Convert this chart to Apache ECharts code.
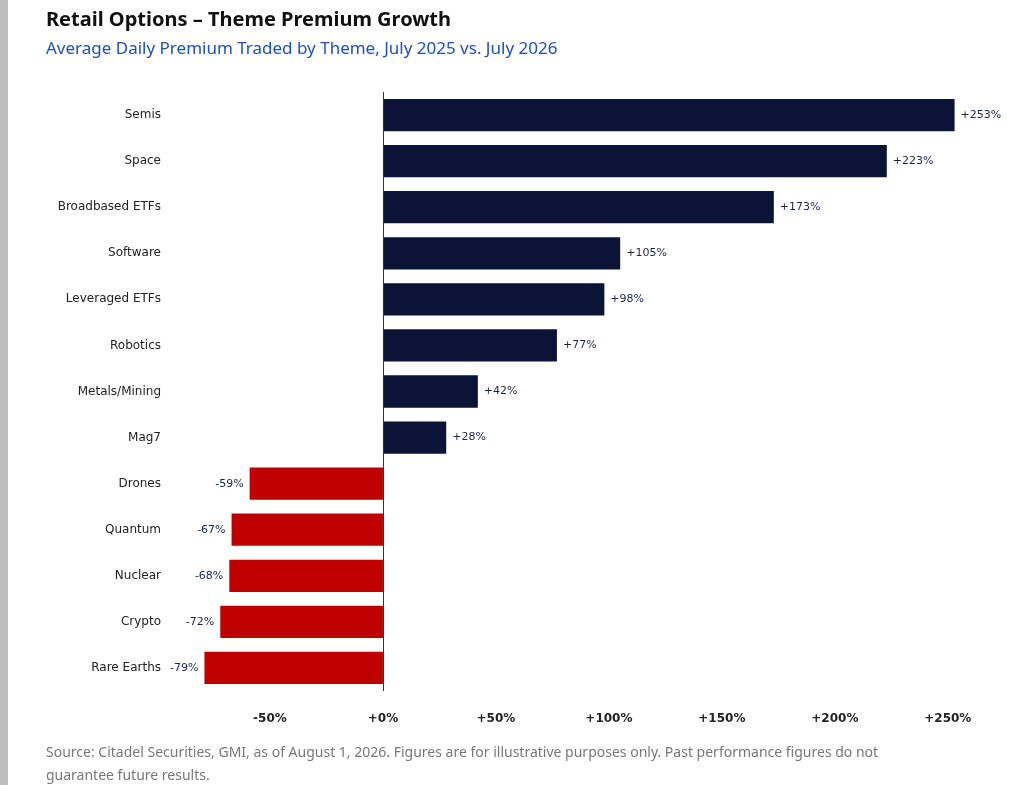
<!DOCTYPE html>
<html><head><meta charset="utf-8">
<script src="https://cdn.jsdelivr.net/npm/echarts@6/dist/echarts.min.js"></script>
<style>
body{margin:0;width:1024px;height:785px;background:#fff;font-family:"Noto Sans",sans-serif;position:relative;overflow:hidden}
#bar{position:absolute;left:0;top:0;width:8px;height:785px;background:#bdbdbd}
#t{position:absolute;left:46px;top:5px;font-size:20px;font-weight:bold;color:#111}
#s{position:absolute;left:46px;top:36px;font-size:17px;color:#1f4fbf}
#f{position:absolute;left:46px;top:740px;width:970px;font-size:14px;color:#777;line-height:23px}
#c{position:absolute;left:0;top:0;width:1024px;height:785px}
</style></head><body>
<div id="bar"></div>
<div id="c"></div>
<div id="t">Retail Options – Theme Premium Growth</div>
<div id="s">Average Daily Premium Traded by Theme, July 2025 vs. July 2026</div>
<div id="f">Source: Citadel Securities, GMI, as of August 1, 2026. Figures are for illustrative purposes only. Past performance figures do not<br>guarantee future results.</div>
<script>
// 主题与涨跌幅（%）
const themes = ["Semis","Space","Broadbased ETFs","Software","Leveraged ETFs","Robotics","Metals/Mining","Mag7","Drones","Quantum","Nuclear","Crypto","Rare Earths"];
const growth = [253,223,173,105,98,77,42,28,-59,-67,-68,-72,-79];

const chart = echarts.init(document.getElementById("c"));
chart.setOption({
  animation:false,
  textStyle:{fontFamily:"DejaVu Sans"},
  grid:{left:157,right:31,top:92,bottom:94},
  xAxis:{type:"value",min:-100,max:270,interval:50,
    splitLine:{show:false},axisLine:{show:false},axisTick:{show:false},
    axisLabel:{margin:22,color:"#222",fontSize:12,fontWeight:"bold",
      formatter:v=>(v<-50||v%50)?"":(v>=0?"+":"")+v+"%"}},
  yAxis:{type:"category",inverse:true,data:themes,
    axisLine:{show:false},axisTick:{show:false},
    axisLabel:{color:"#222",fontSize:12,margin:-4}},
  series:[{type:"bar",barWidth:"70%",
    data:growth.map(v=>({value:v,itemStyle:{color:v>=0?"#0b1437":"#c00000"},
      label:{position:v>=0?"right":"left"}})),
    label:{show:true,fontSize:11,color:"#1a2350",distance:6,
      formatter:p=>(p.value>=0?"+":"")+p.value+"%"},
    markLine:{symbol:"none",silent:true,label:{show:false},
      lineStyle:{color:"#333",width:1,type:"solid"},data:[{xAxis:0}]}
  }]
});
</script></body></html>
